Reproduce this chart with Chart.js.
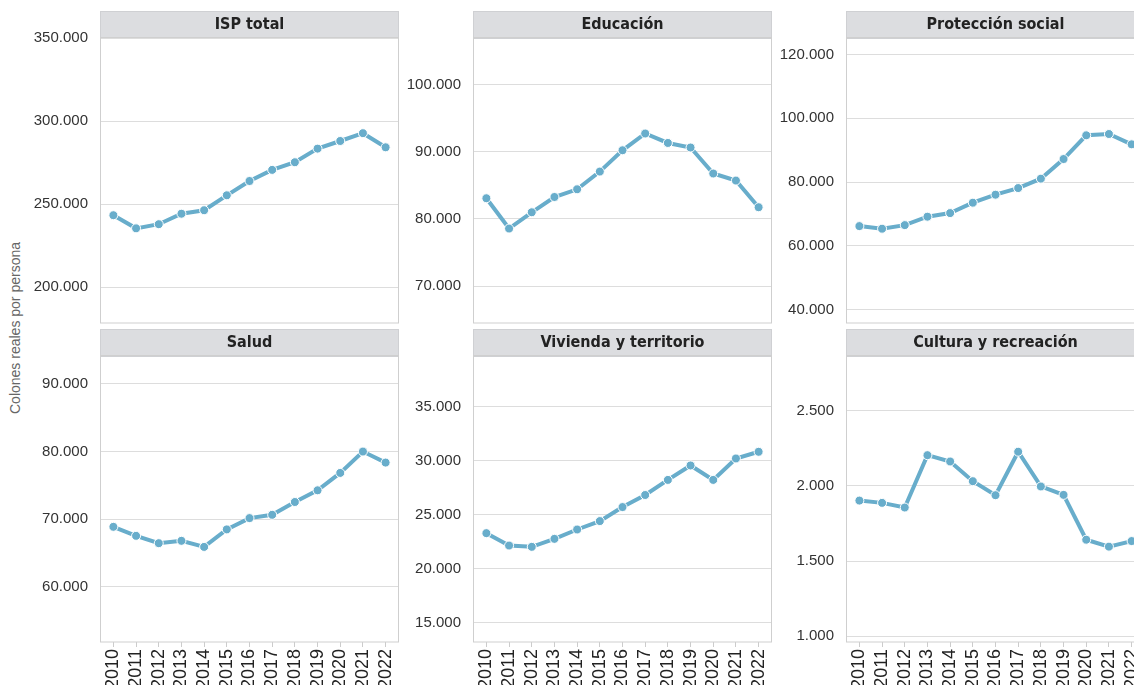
<!DOCTYPE html>
<html>
<head>
<meta charset="utf-8">
<script src="https://cdn.jsdelivr.net/npm/chart.js@4.4.0/dist/chart.umd.min.js"></script>
<style>
  html, body { margin: 0; padding: 0; background: #fff; overflow: hidden; }
  #wrap { position: relative; width: 1134px; height: 685px; overflow: hidden; }
  #wrap canvas { position: absolute; }
  #ytitle {
    position: absolute; left: 15px; top: 328px;
    transform: translate(-50%, -50%) rotate(-90deg);
    font: 14px 'Liberation Sans', Arial, sans-serif; color: #666; white-space: nowrap;
  }
</style>
</head>
<body>
<div id="wrap">
  <div id="ytitle">Colones reales por persona</div>
</div>
<script>
// Years on the x axis
const years = [2010, 2011, 2012, 2013, 2014, 2015, 2016, 2017, 2018, 2019, 2020, 2021, 2022];

// Series (colones reales por persona)
const ispTotal   = [243400, 235500, 238000, 244300, 246400, 255400, 264000, 270700, 275300, 283500, 288100, 292800, 284300];
const educacion  = [83090, 78570, 81000, 83280, 84430, 87070, 90250, 92750, 91340, 90660, 86780, 85730, 81750];
const proteccion = [66190, 65370, 66500, 69140, 70270, 73530, 76040, 78120, 81070, 87220, 94660, 95070, 91840];
const salud      = [68870, 67540, 66450, 66800, 65900, 68490, 70160, 70650, 72540, 74270, 76840, 80000, 78370];
const vivienda   = [23290, 22140, 22020, 22760, 23630, 24410, 25710, 26830, 28230, 29570, 28230, 30220, 30840];
const cultura    = [1902, 1887, 1856, 2204, 2162, 2031, 1938, 2227, 1996, 1940, 1642, 1596, 1633];

// Y tick values per panel
const ispTicks        = [200000, 250000, 300000, 350000];
const educacionTicks  = [70000, 80000, 90000, 100000];
const proteccionTicks = [40000, 60000, 80000, 100000, 120000];
const saludTicks      = [60000, 70000, 80000, 90000];
const viviendaTicks   = [15000, 20000, 25000, 30000, 35000];
const culturaTicks    = [1000, 1500, 2000, 2500];

const lineColor = '#68adcb';

// dot as thousands separator
function fmt(v) {
  return String(Math.round(v)).replace(/\B(?=(\d{3})+(?!\d))/g, '.');
}

const panels = [
  { title: 'ISP total',              data: ispTotal,   ticks: ispTicks,        min: 178500, max: 350000, col: 0, row: 0 },
  { title: 'Educación',              data: educacion,  ticks: educacionTicks,  min: 64480,  max: 106970, col: 1, row: 0 },
  { title: 'Protección social',      data: proteccion, ticks: proteccionTicks, min: 35800,  max: 125120, col: 2, row: 0 },
  { title: 'Salud',                  data: salud,      ticks: saludTicks,      min: 51840,  max: 94100,  col: 0, row: 1 },
  { title: 'Vivienda y territorio',  data: vivienda,   ticks: viviendaTicks,   min: 13190,  max: 39710,  col: 1, row: 1 },
  { title: 'Cultura y recreación',   data: cultura,    ticks: culturaTicks,    min: 962,    max: 2862,   col: 2, row: 1 },
];

const colLeft = [0, 373, 746];
const rowTop = [11, 329];
const rowHeight = [313, 373];

// gray strip behind the panel title and thin frame round the plot
const facetFrame = {
  id: 'facetFrame',
  beforeDraw(chart) {
    const t = chart.titleBlock;
    if (!t) return;
    const ctx = chart.ctx;
    ctx.save();
    ctx.fillStyle = '#dcdde0';
    ctx.fillRect(t.left, t.top, t.width, t.height);
    ctx.strokeStyle = '#cfd0d3';
    ctx.lineWidth = 1;
    ctx.strokeRect(Math.round(t.left) + 0.5, Math.round(t.top) + 0.5, Math.round(t.width) - 1, Math.round(t.height));
    ctx.restore();
  },
  beforeDatasetsDraw(chart) {
    const a = chart.chartArea;
    const ctx = chart.ctx;
    ctx.save();
    ctx.strokeStyle = '#cfcfcf';
    ctx.lineWidth = 1;
    ctx.strokeRect(Math.round(a.left) + 0.5, Math.round(a.top) - 0.5, Math.round(a.right - a.left) - 1, Math.round(a.bottom - a.top) + 0.5);
    ctx.restore();
  }
};

const wrap = document.getElementById('wrap');

panels.forEach(p => {
  const canvas = document.createElement('canvas');
  canvas.width = 400;
  canvas.height = rowHeight[p.row];
  canvas.style.left = colLeft[p.col] + 'px';
  canvas.style.top = rowTop[p.row] + 'px';
  wrap.appendChild(canvas);

  const bottomRow = p.row === 1;

  new Chart(canvas.getContext('2d'), {
    type: 'line',
    data: {
      datasets: [{
        data: years.map((y, i) => ({ x: y, y: p.data[i] })),
        borderColor: lineColor,
        backgroundColor: lineColor,
        borderWidth: 4,
        pointRadius: 4.5,
        pointBackgroundColor: lineColor,
        pointBorderColor: '#ffffff',
        pointBorderWidth: 1,
        tension: 0
      }]
    },
    options: {
      responsive: false,
      animation: false,
      devicePixelRatio: 1,
      layout: { autoPadding: false, padding: { left: 0, right: 1, top: 0, bottom: bottomRow ? 0 : 1 } },
      plugins: {
        legend: { display: false },
        tooltip: { enabled: false },
        title: {
          display: true,
          text: p.title,
          fullSize: false,
          color: '#222',
          font: { family: "'Liberation Sans Narrow', 'DejaVu Sans Condensed', Roboto, sans-serif", size: 16, weight: 'bold', lineHeight: 1.2 },
          padding: { top: 4, bottom: 4 }
        }
      },
      scales: {
        x: {
          type: 'linear',
          min: 2009.41,
          max: 2022.59,
          afterBuildTicks: s => { s.ticks = years.map(v => ({ value: v })); },
          afterFit: s => { s.height = bottomRow ? 60 : 0; s.paddingLeft = 0; s.paddingRight = 0; },
          border: { display: false },
          grid: {
            display: bottomRow,
            drawOnChartArea: false,
            drawTicks: true,
            tickLength: 5,
            color: '#cccccc'
          },
          ticks: {
            display: bottomRow,
            autoSkip: false,
            minRotation: 90,
            maxRotation: 90,
            padding: 2,
            color: '#222',
            font: { family: "'Liberation Sans', Arial, sans-serif", size: 18 },
            callback: v => String(v)
          }
        },
        y: {
          min: p.min,
          max: p.max,
          afterBuildTicks: s => { s.ticks = p.ticks.map(v => ({ value: v })); },
          afterFit: s => { s.width = 100; s.paddingTop = 0; s.paddingBottom = 0; },
          border: { display: false },
          grid: { color: '#dddddd', lineWidth: 1, drawTicks: false },
          ticks: {
            padding: 12,
            color: '#333',
            font: { family: "'Liberation Sans', Arial, sans-serif", size: 15 },
            callback: v => fmt(v)
          }
        }
      }
    },
    plugins: [facetFrame]
  });
});
</script>
</body>
</html>
